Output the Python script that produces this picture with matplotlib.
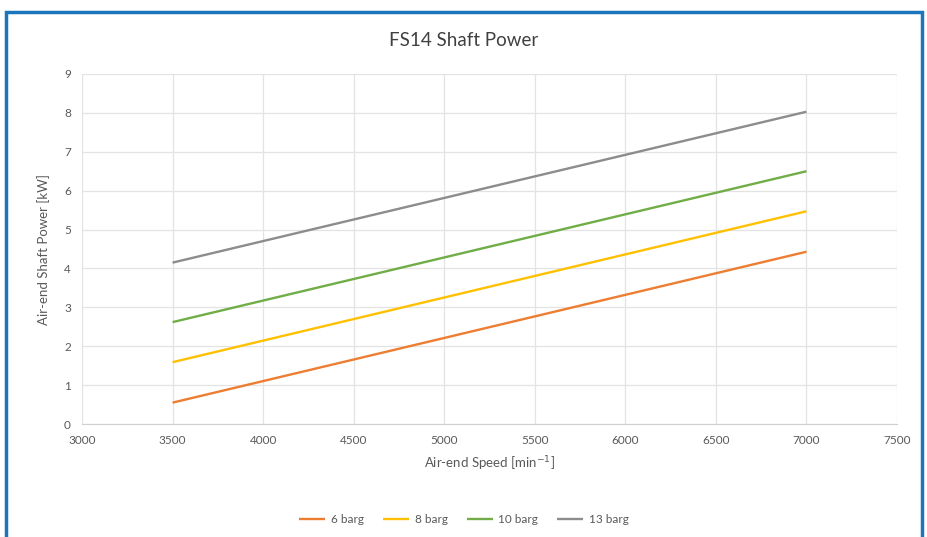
import matplotlib
matplotlib.use("Agg")
import matplotlib.pyplot as plt
from matplotlib.patches import Rectangle

plt.rcParams['font.family'] = ['Lato', 'DejaVu Sans']

# data
speed = [3500, 7000]
series_names = ["6 barg", "8 barg", "10 barg", "13 barg"]
power_6 = [0.55, 4.43]
power_8 = [1.59, 5.47]
power_10 = [2.62, 6.50]
power_13 = [4.15, 8.03]
series_colors = ["#ED7D31", "#FFC000", "#70AD47", "#8C8C8C"]

fig = plt.figure(figsize=(9.28, 5.37), dpi=100)
ax = fig.add_axes([0.0884, 0.2104, 0.8782, 0.6518])

for name, vals, col in zip(series_names, [power_6, power_8, power_10, power_13], series_colors):
    ax.plot(speed, vals, color=col, lw=1.7, label=name, solid_capstyle="butt")

ax.set_xlim(3000, 7500)
ax.set_ylim(0, 9)
ax.set_xticks(range(3000, 7501, 500))
ax.set_yticks(range(0, 10))
ax.grid(True, color="#E3E3E3", lw=0.9)
ax.set_axisbelow(True)
for s in ["top", "right", "left"]:
    ax.spines[s].set_visible(False)
ax.spines["bottom"].set_color("#D0D0D0")
ax.tick_params(length=0, labelsize=8.5, colors="#595959", pad=8)

ax.set_xlabel("Air-end Speed [min$^{-1}$]", fontsize=9.5, color="#595959", labelpad=6)
ax.set_ylabel("Air-end Shaft Power [kW]", fontsize=9.5, color="#595959", labelpad=10)
fig.text(0.5, 0.925, "FS14 Shaft Power", ha="center", va="center", fontsize=13.5, color="#404040")

fig.legend(loc="center", bbox_to_anchor=(0.5, 0.032), ncol=4, frameon=False,
           fontsize=8.5, labelcolor="#595959", handlelength=2.2, columnspacing=1.6,
           handletextpad=0.5)

# blue frame around the chart
fig.patches.append(Rectangle((6 / 928, -0.05), 916 / 928, 1.05 - 12 / 537,
                             transform=fig.transFigure, fill=False,
                             edgecolor="#1B75BC", lw=2.5))

fig.savefig("out.png", dpi=100, facecolor="white")
